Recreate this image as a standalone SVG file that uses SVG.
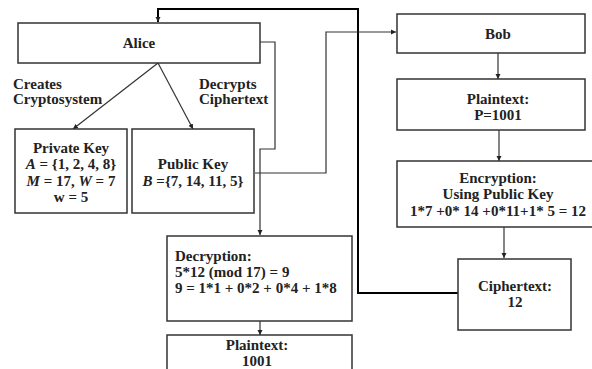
<svg xmlns="http://www.w3.org/2000/svg" width="592" height="369" viewBox="0 0 592 369">
<style>
.box{fill:#fff;stroke:#333;stroke-width:1.5}
text{font-family:"Liberation Serif","Times New Roman",serif;font-weight:bold;font-size:15px;fill:#222}
.c{text-anchor:middle}
.ln{fill:none;stroke:#333;stroke-width:1.2}
.thick{fill:none;stroke:#000;stroke-width:2}
</style>
<defs>
<marker id="ah" markerWidth="6" markerHeight="6" refX="5" refY="3" orient="auto" markerUnits="userSpaceOnUse"><path d="M0,0.5 L5,3 L0,5.5 Z" fill="#222"/></marker>
</defs>
<g id="connectors">
<path class="thick" d="M458,293 H358 V9 H158 V22" marker-end="url(#ah)"/>
<path class="ln" d="M260,42 H275 V149 H260 V235" marker-end="url(#ah)"/>
<path class="ln" d="M255,173 H326 V32 H396" marker-end="url(#ah)"/>
<path class="ln" d="M158,63 L73,129" marker-end="url(#ah)"/>
<path class="ln" d="M158,63 L193,129" marker-end="url(#ah)"/>
<path class="ln" d="M498,53 V79" marker-end="url(#ah)"/>
<path class="ln" d="M499,130 V161" marker-end="url(#ah)"/>
<path class="ln" d="M504,227 V258" marker-end="url(#ah)"/>
<path class="ln" d="M260,321 V335" marker-end="url(#ah)"/>
</g>
<g id="labels">
<text x="13" y="89">Creates</text>
<text x="13" y="104">Cryptosystem</text>
<text x="199" y="89">Decrypts</text>
<text x="199" y="104">Ciphertext</text>
</g>
<g id="alice"><rect class="box" x="18" y="23" width="242" height="40"/><text class="c" x="139" y="48">Alice</text></g>
<g id="private-key"><rect class="box" x="15" y="129" width="112" height="84"/>
<text class="c" x="71" y="153">Private Key</text>
<text class="c" x="71" y="169"><tspan font-style="italic">A</tspan> = {1, 2, 4, 8}</text>
<text class="c" x="71" y="186"><tspan font-style="italic">M</tspan> = 17, <tspan font-style="italic">W</tspan> = 7</text>
<text class="c" x="71" y="202">w = 5</text></g>
<g id="public-key"><rect class="box" x="132" y="129" width="122" height="84"/>
<text class="c" x="193" y="169">Public Key</text>
<text class="c" x="193" y="186"><tspan font-style="italic">B</tspan> ={7, 14, 11, 5}</text></g>
<g id="bob"><rect class="box" x="397" y="14" width="188" height="39"/><text class="c" x="498" y="39">Bob</text></g>
<g id="plaintext-bob"><rect class="box" x="397" y="79" width="188" height="51"/>
<text class="c" x="498" y="104">Plaintext:</text><text class="c" x="498" y="120">P=1001</text></g>
<g id="encryption"><rect class="box" x="397" y="161" width="200" height="66"/>
<text class="c" x="498" y="183">Encryption:</text>
<text class="c" x="498" y="199">Using Public Key</text>
<text class="c" x="498" y="216">1*7 +0* 14 +0*11+1* 5 = 12</text></g>
<g id="ciphertext"><rect class="box" x="458" y="259" width="113" height="71"/>
<text class="c" x="515" y="291">Ciphertext:</text><text class="c" x="515" y="307">12</text></g>
<g id="decryption"><rect class="box" x="167" y="236" width="185" height="85"/>
<text x="175" y="261">Decryption:</text>
<text x="175" y="277">5*12 (mod 17) = 9</text>
<text x="175" y="293">9 = 1*1 + 0*2 + 0*4 + 1*8</text></g>
<g id="plaintext-alice"><rect class="box" x="167" y="335" width="185" height="40"/>
<text class="c" x="257" y="350">Plaintext:</text><text class="c" x="257" y="366">1001</text></g>
</svg>
